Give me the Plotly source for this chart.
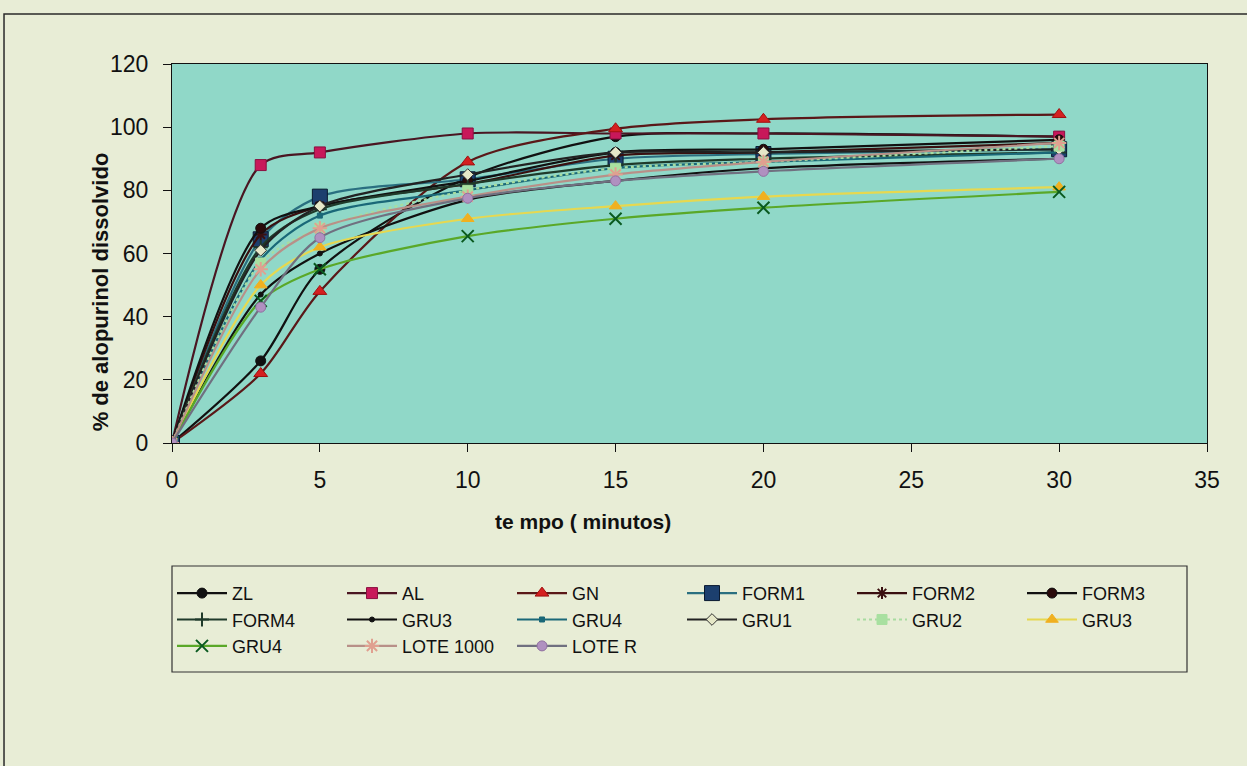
import plotly.graph_objects as go

tempo = [0, 3, 5, 10, 15, 20, 30]

series_names = ["ZL", "AL", "GN", "FORM1", "FORM2", "FORM3", "FORM4",
                "GRU3", "GRU4", "GRU1", "GRU2", "GRU3", "GRU4", "LOTE 1000", "LOTE R"]

zl = [0, 26, 55, 84, 97, 98, 97]
al = [0, 88, 92, 98, 98, 98, 97]
gn = [0, 22, 48, 89, 99.5, 102.5, 104]
form1 = [0, 64.5, 78, 83.5, 90, 91.5, 93]
form2 = [0, 66, 75, 82, 91, 92, 95]
form3 = [0, 68, 75, 83, 92, 93, 96]
form4 = [0, 62, 74, 82, 88, 90, 92]
gru3_a = [0, 47, 60, 77, 83, 87, 90]
gru4_a = [0, 58, 72, 80, 87, 89, 92]
gru1 = [0, 61, 75, 85, 92, 92, 93]
gru2 = [0, 57, 68, 80, 87, 89, 94]
gru3_b = [0, 50, 62, 71, 75, 78, 81]
gru4_b = [0, 45, 55, 65.5, 71, 74.5, 79.5]
lote1000 = [0, 55, 68, 78, 85, 89, 95]
loter = [0, 43, 65, 77.5, 83, 86, 90]

values = [zl, al, gn, form1, form2, form3, form4, gru3_a, gru4_a,
          gru1, gru2, gru3_b, gru4_b, lote1000, loter]

styles = [
    dict(line="#111111", dash="solid", sym="circle", mc="#111111", ml="#111111", ms=10),
    dict(line="#4a1622", dash="solid", sym="square", mc="#c8185a", ml="#8a1040", ms=11),
    dict(line="#5a1818", dash="solid", sym="triangle-up", mc="#d42020", ml="#a01010", ms=12),
    dict(line="#2a6f80", dash="solid", sym="square", mc="#1c3f6e", ml="#0a1a30", ms=15),
    dict(line="#3a1010", dash="solid", sym="asterisk", mc="#3a1010", ml="#3a1010", ms=10),
    dict(line="#111111", dash="solid", sym="circle", mc="#2a0a0a", ml="#111111", ms=10),
    dict(line="#1f3a2a", dash="solid", sym="cross-thin", mc="#1f3a2a", ml="#1f3a2a", ms=10),
    dict(line="#111111", dash="solid", sym="circle", mc="#111111", ml="#111111", ms=5),
    dict(line="#1a6878", dash="solid", sym="square", mc="#1a6878", ml="#1a6878", ms=5),
    dict(line="#222222", dash="solid", sym="diamond", mc="#e6e8c8", ml="#333333", ms=9),
    dict(line="#a8dca0", dash="dot", sym="square", mc="#a8e0a0", ml="#a8e0a0", ms=10),
    dict(line="#e6d850", dash="solid", sym="triangle-up", mc="#f0b020", ml="#f0b020", ms=11),
    dict(line="#5aa828", dash="solid", sym="x-thin", mc="#0a5a20", ml="#0a5a20", ms=12),
    dict(line="#b89088", dash="solid", sym="asterisk", mc="#e0a090", ml="#e0a090", ms=12),
    dict(line="#707080", dash="solid", sym="circle", mc="#b090c0", ml="#9070a0", ms=10),
]

fig = go.Figure()
for name, vals, st in zip(series_names, values, styles):
    thin = st["sym"] in ("x-thin", "cross-thin", "asterisk")
    fig.add_trace(go.Scatter(
        x=tempo, y=vals, name=name, mode="lines+markers",
        line=dict(color=st["line"], width=2.2, shape="spline", smoothing=0.8, dash=st["dash"]),
        marker=dict(symbol=st["sym"], color=st["mc"], size=st["ms"],
                    line=dict(color=st["ml"], width=2 if thin else 1)),
    ))

fig.update_layout(
    width=1247, height=766,
    paper_bgcolor="#e8edd6",
    plot_bgcolor="#90d8c8",
    margin=dict(l=172, r=40, t=64, b=323),
    font=dict(family="Liberation Sans, Arial, sans-serif", color="#111111"),
    showlegend=True,
    legend=dict(
        orientation="h", x=0.0, xanchor="left", y=-0.348, yanchor="top",
        bgcolor="rgba(0,0,0,0)", borderwidth=0,
        font=dict(size=18, family="Liberation Sans, Arial, sans-serif"),
        entrywidth=105, entrywidthmode="pixels", traceorder="normal",
        itemwidth=50,
    ),
    xaxis=dict(
        range=[0, 35], tickvals=[0, 5, 10, 15, 20, 25, 30, 35],
        ticks="outside", ticklen=8, tickcolor="#111111",
        showline=True, linecolor="#111111", linewidth=1, mirror=True,
        showgrid=False, zeroline=False, ticklabelstandoff=8,
        tickfont=dict(size=23),
    ),
    yaxis=dict(
        range=[0, 120], tickvals=[0, 20, 40, 60, 80, 100, 120],
        ticks="outside", ticklen=8, tickcolor="#111111",
        showline=True, linecolor="#111111", linewidth=1, mirror=True,
        showgrid=False, zeroline=False, ticklabelstandoff=10,
        tickfont=dict(size=23),
    ),
    annotations=[
        dict(text="<b>te mpo ( minutos)</b>", xref="paper", yref="paper",
             x=0.397, y=-0.208, showarrow=False, font=dict(size=21),
             xanchor="center", yanchor="middle"),
        dict(text="<b>% de alopurinol dissolvido</b>", xref="paper", yref="paper",
             x=-0.0696, y=0.40, showarrow=False, textangle=-90, font=dict(size=22),
             xanchor="center", yanchor="middle"),
    ],
    shapes=[
        dict(type="rect", xref="paper", yref="paper",
             x0=-0.1623, y0=-1.0, x1=1.1, y1=1.132,
             line=dict(color="#2a2a2a", width=1.5), fillcolor="rgba(0,0,0,0)", layer="below"),
        dict(type="rect", xref="paper", yref="paper",
             x0=0.0, y0=(443 - 672) / 379, x1=(1187 - 172) / 1035, y1=(443 - 566) / 379,
             line=dict(color="#333333", width=1.2), fillcolor="rgba(0,0,0,0)", layer="below"),
    ],
)

fig.write_html("out.html", config={"displayModeBar": False},
               post_script="document.body.style.margin='0';document.body.style.padding='0';document.body.style.background='#e8edd6';")
